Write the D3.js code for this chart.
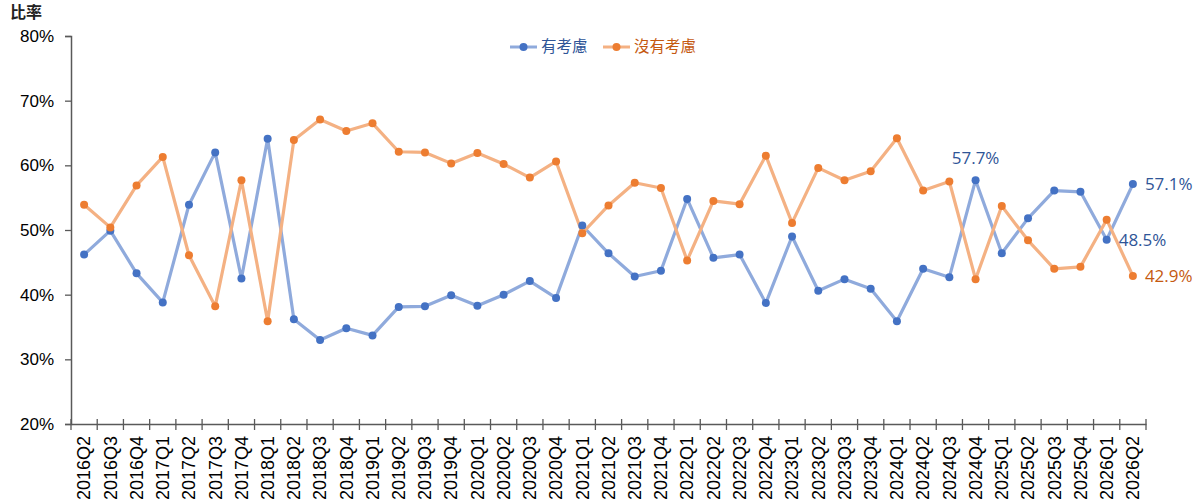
<!DOCTYPE html>
<html>
<head>
<meta charset="utf-8">
<script src="https://cdn.jsdelivr.net/npm/d3@7"></script>
<style>
  body { margin: 0; background: #fff; overflow: hidden; }
  svg { font-family: "Open Sans", "Noto Sans CJK TC", sans-serif; }
</style>
</head>
<body>
<div id="chart-area"></div>
<script>
// quarters 2016Q2 .. 2026Q2
const quarters = [];
for (let yr = 2016; yr <= 2026; yr++) {
  for (let q = 1; q <= 4; q++) {
    if ((yr == 2016 && q == 1) || (yr == 2026 && q > 2)) continue;
    quarters.push(yr + "Q" + q);
  }
}

const consider = [46.2, 49.9, 43.3, 38.8, 53.9, 62.0, 42.5, 64.1, 36.2, 33.0,
  34.8, 33.7, 38.1, 38.2, 39.9, 38.3, 40.0, 42.1, 39.5, 50.7,
  46.4, 42.8, 43.7, 54.8, 45.7, 46.2, 38.7, 49.0, 40.6, 42.4,
  40.9, 35.9, 44.0, 42.7, 57.7, 46.4, 51.8, 56.1, 55.9, 48.5, 57.1];

const notConsider = [53.9, 50.4, 56.9, 61.3, 46.1, 38.2, 57.7, 35.9, 63.9, 67.1,
  65.3, 66.5, 62.1, 62.0, 60.3, 61.9, 60.2, 58.1, 60.6, 49.5,
  53.8, 57.3, 56.5, 45.3, 54.5, 54.0, 61.5, 51.1, 59.6, 57.7,
  59.1, 64.2, 56.1, 57.5, 42.4, 53.7, 48.4, 44.0, 44.3, 51.6, 42.9];

const yTicks = [20, 30, 40, 50, 60, 70, 80];
const seriesNames = ["有考慮", "沒有考慮"];

// labelled points: [series index, quarter index, placement]
const callouts = [[0, 34, "above"], [0, 40, "right"], [0, 39, "right"], [1, 40, "right"]];

const W = 1200, H = 502;
const mLeft = 71, mRight = 1146, mTop = 36, mBottom = 424;

const svg = d3.select("#chart-area").append("svg")
  .attr("width", W)
  .attr("height", H);

const x = d3.scaleBand().domain(quarters).range([mLeft, mRight]);
const y = d3.scaleLinear().domain([20, 80]).range([mBottom, mTop]);

const colors = [
  { line: "#8FAADC", dot: "#4472C4", text: "#2F5597" },
  { line: "#F4B183", dot: "#ED7D31", text: "#C55A11" }
];

// axes
const axisY = d3.axisLeft(y).tickValues(yTicks).tickFormat(d => d + "%").tickSize(6).tickPadding(11);
const gy = svg.append("g").attr("transform", "translate(" + mLeft + ",0)").call(axisY);
gy.selectAll("text").attr("font-size", 17).attr("fill", "#000");

const axisX = d3.axisBottom(x).tickSize(0);
const gx = svg.append("g").attr("transform", "translate(0," + mBottom + ")").call(axisX);
gx.selectAll(".tick line").remove();
gx.selectAll("text")
  .attr("font-size", 18).attr("fill", "#000")
  .attr("transform", "rotate(-90)")
  .attr("text-anchor", "end")
  .attr("x", -12).attr("y", 0).attr("dy", "0.35em");

// category boundary ticks crossing the x axis
const bounds = quarters.map(q => x(q)).concat([mRight]);
svg.append("g").selectAll("line").data(bounds).enter().append("line")
  .attr("x1", d => d).attr("x2", d => d)
  .attr("y1", mBottom - 5).attr("y2", mBottom + 6)
  .attr("stroke", "#595959").attr("stroke-width", 1.3);

svg.selectAll(".domain").attr("stroke", "#595959").attr("stroke-width", 1.5);
gy.selectAll(".tick line").attr("stroke", "#595959").attr("stroke-width", 1.3);

// y axis title
svg.append("text").attr("x", 10).attr("y", 18)
  .attr("font-size", 16).attr("font-weight", "bold").attr("fill", "#222")
  .attr("font-family", "Noto Sans CJK TC")
  .text("比率");

// lines & dots
const cx = i => x(quarters[i]) + x.bandwidth() / 2;
const line = d3.line().x((d, i) => cx(i)).y(d => y(d));

[consider, notConsider].forEach((vals, s) => {
  svg.append("path").datum(vals)
    .attr("d", line)
    .attr("fill", "none")
    .attr("stroke", colors[s].line)
    .attr("stroke-width", 3.2)
    .attr("stroke-linejoin", "round");
});

[consider, notConsider].forEach((vals, s) => {
  svg.append("g").selectAll("circle").data(vals).enter().append("circle")
    .attr("cx", (d, i) => cx(i))
    .attr("cy", d => y(d))
    .attr("r", 4)
    .attr("fill", colors[s].dot);
});

// value labels
callouts.forEach(c => {
  const vals = c[0] == 0 ? consider : notConsider;
  const v = vals[c[1]];
  const t = svg.append("text")
    .attr("font-size", 17)
    .attr("fill", colors[c[0]].text)
    .text(v.toFixed(1) + "%");
  if (c[2] == "above") {
    t.attr("x", cx(c[1])).attr("y", y(v) - 16).attr("text-anchor", "middle");
  } else {
    t.attr("x", cx(c[1]) + 12).attr("y", y(v)).attr("dy", "0.35em");
  }
});

// legend
const legend = svg.append("g").attr("transform", "translate(510,47)");
const legX = [0, 93];
seriesNames.forEach((name, s) => {
  const g = legend.append("g").attr("transform", "translate(" + legX[s] + ",0)");
  g.append("line").attr("x1", 0).attr("x2", 27).attr("y1", 0).attr("y2", 0)
    .attr("stroke", colors[s].line).attr("stroke-width", 3);
  g.append("circle").attr("cx", 13.5).attr("cy", 0).attr("r", 4).attr("fill", colors[s].dot);
  g.append("text").attr("x", 31).attr("y", 0).attr("dy", "0.35em")
    .attr("font-size", 15.5).attr("fill", colors[s].text)
    .attr("font-family", "Noto Sans CJK TC")
    .text(name);
});
</script>
</body>
</html>
